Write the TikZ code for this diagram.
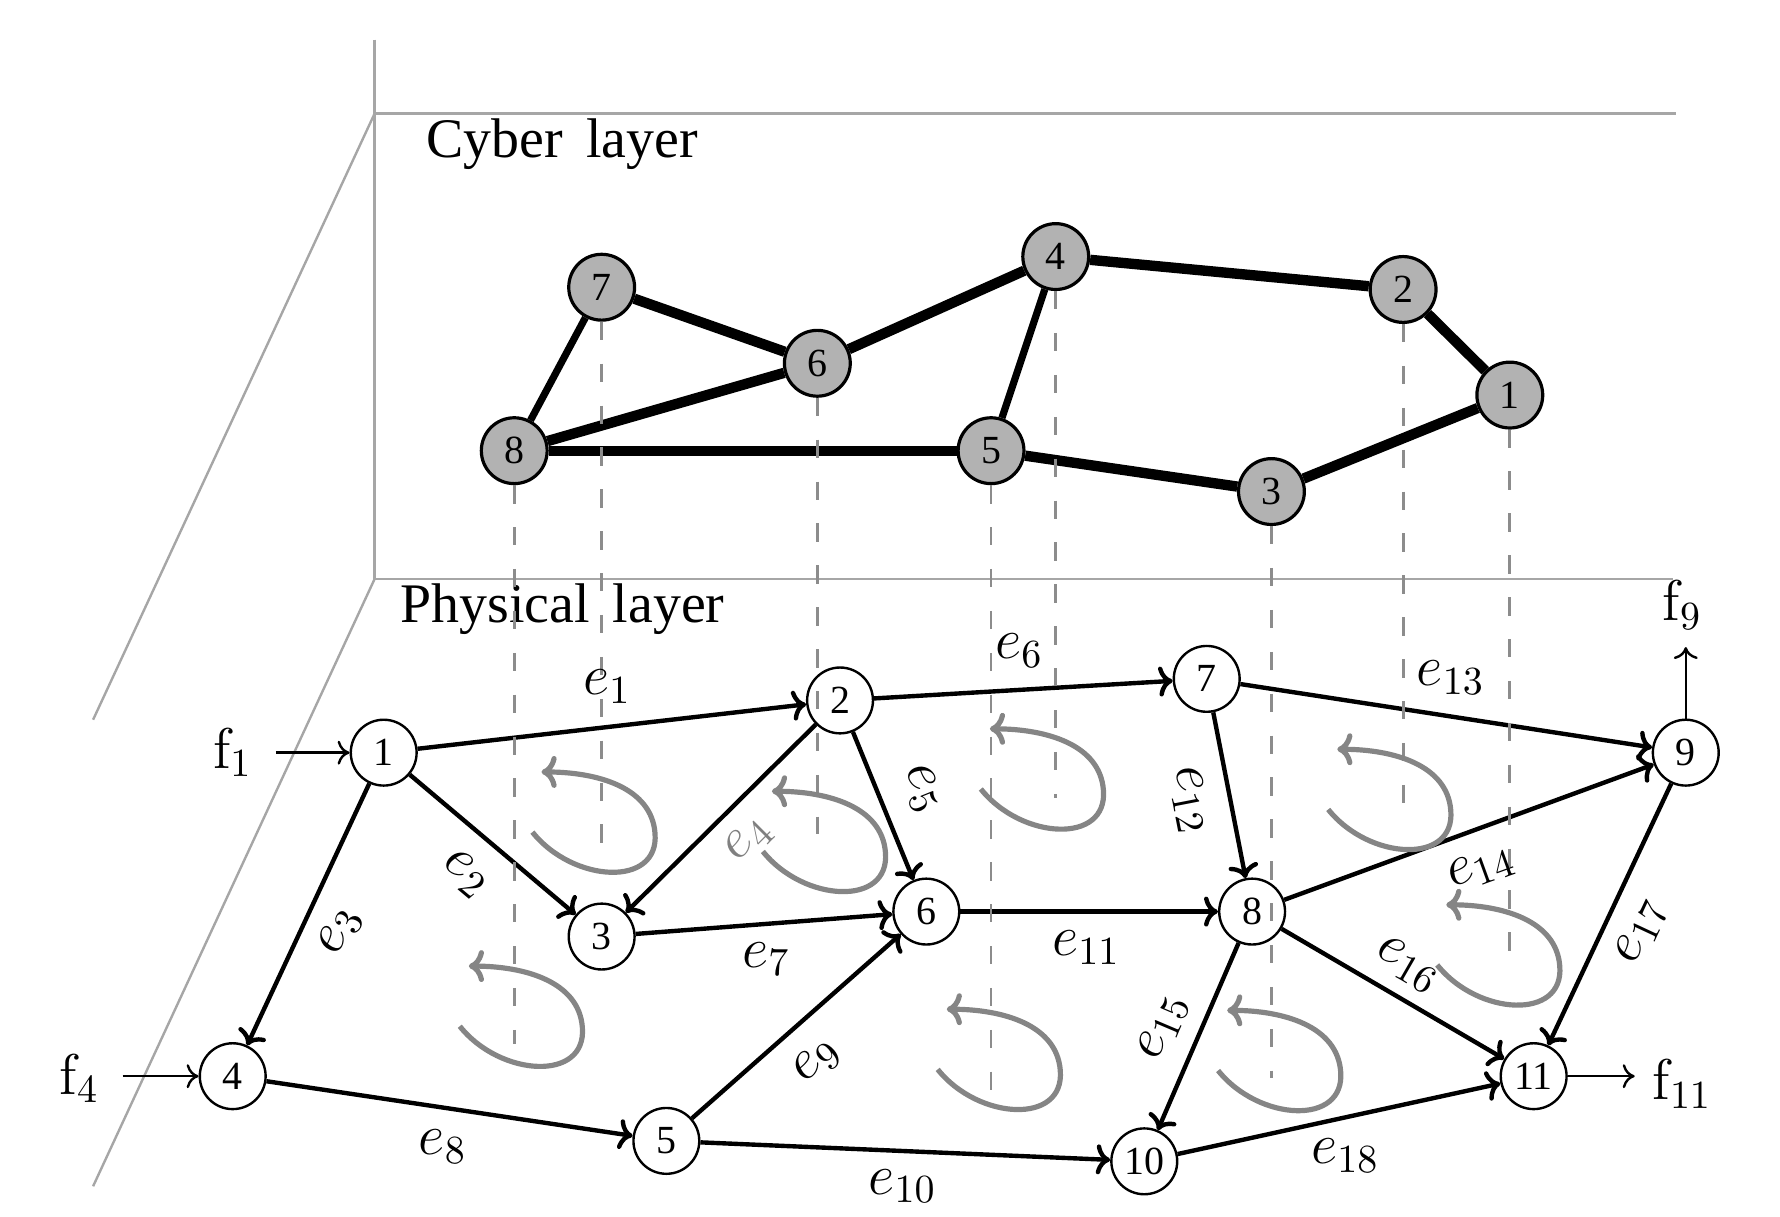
\documentclass[tikz,border=0pt]{standalone}
\usepackage[no-math]{fontspec}
\setmainfont{Liberation Serif}
\usetikzlibrary{arrows.meta}
\tikzset{
  wall/.style={draw=black!35, line width=0.6pt},
  cnode/.style={circle, draw=black, line width=0.8pt, fill=black!30, minimum size=5.8mm, inner sep=0pt, font=\fontsize{10}{11}\selectfont},
  pnode/.style={circle, draw=black, line width=0.6pt, fill=white, minimum size=5.8mm, inner sep=0pt, font=\fontsize{10}{11}\selectfont},
  clink/.style={line width=2.6pt},
  clinkthin/.style={line width=1.8pt},
  plink/.style={line width=1.1pt, -{To[length=3.5pt,width=7.5pt]}},
  flink/.style={line width=0.6pt, -{To[length=3pt,width=6pt]}},
  proj/.style={draw=black!45, line width=0.7pt, dash pattern=on 4.6pt off 5.9pt},
  elabel/.style={font=\fontsize{14}{16}\selectfont, inner sep=0pt},
  layertitle/.style={font=\fontsize{14}{16}\selectfont, anchor=west, inner sep=0pt},
  loopc/.style={draw=black!48, line width=1.3pt, -{To[length=3.8pt,width=8pt]}},
  circ/.pic={\draw[loopc] (-8,53) .. controls (28,98) and (104,102) .. (100,54) .. controls (97,14) and (50,0) .. (0,0);}
}
\begin{document}
\begin{tikzpicture}[x=0.1mm,y=-0.1mm]
\useasboundingbox (0,0) rectangle (1568,1072);
% walls
\coordinate (wtop) at (330,35);
\coordinate (wa) at (330,100);
\coordinate (wb) at (330,510);
\coordinate (wae) at (1476,100);
\coordinate (wbe) at (1474,510);
\coordinate (wad) at (82,634);
\coordinate (wbd) at (82,1045);
\draw[wall] (wtop) -- (wb);
\draw[wall] (wa) -- (wae);
\draw[wall] (wb) -- (wbe);
\draw[wall] (wa) -- (wad);
\draw[wall] (wb) -- (wbd);
\node[layertitle] (tcyber) at (375,127) {Cyber\, layer};
\node[layertitle] (tphys) at (352,537) {Physical\, layer};
% cyber nodes
\node[cnode] (c1) at (1330,348) {1};
\node[cnode] (c2) at (1236,255) {2};
\node[cnode] (c3) at (1120,433) {3};
\node[cnode] (c4) at (930,226) {4};
\node[cnode] (c5) at (873,397) {5};
\node[cnode] (c6) at (720,320) {6};
\node[cnode] (c7) at (530,253) {7};
\node[cnode] (c8) at (453,397) {8};
\draw[clink] (c7) -- (c6);
\draw[clink] (c6) -- (c8);
\draw[clink] (c6) -- (c4);
\draw[clink] (c4) -- (c2);
\draw[clink] (c2) -- (c1);
\draw[clink] (c1) -- (c3);
\draw[clink] (c3) -- (c5);
\draw[clink] (c5) -- (c8);
\draw[clinkthin] (c7) -- (c8);
\draw[clinkthin] (c4) -- (c5);
% physical nodes
\node[pnode] (p1) at (338,663) {1};
\node[pnode] (p2) at (740,617) {2};
\node[pnode] (p3) at (530,825) {3};
\node[pnode] (p4) at (205,948) {4};
\node[pnode] (p5) at (587,1005) {5};
\node[pnode] (p6) at (816,803) {6};
\node[pnode] (p7) at (1063,598) {7};
\node[pnode] (p8) at (1103,803) {8};
\node[pnode] (p9) at (1485,663) {9};
\node[pnode] (p10) at (1008,1023) {10};
\node[pnode] (p11) at (1351,948) {11};
\draw[plink] (p1) -- (p2);
\draw[plink] (p1) -- (p3);
\draw[plink] (p1) -- (p4);
\draw[plink] (p2) -- (p3);
\draw[plink] (p2) -- (p6);
\draw[plink] (p2) -- (p7);
\draw[plink] (p3) -- (p6);
\draw[plink] (p4) -- (p5);
\draw[plink] (p5) -- (p6);
\draw[plink] (p5) -- (p10);
\draw[plink] (p6) -- (p8);
\draw[plink] (p7) -- (p8);
\draw[plink] (p7) -- (p9);
\draw[plink] (p8) -- (p9);
\draw[plink] (p8) -- (p10);
\draw[plink] (p8) -- (p11);
\draw[plink] (p9) -- (p11);
\draw[plink] (p10) -- (p11);
% external flows
\coordinate (f1s) at (243,663);
\coordinate (f4s) at (108,948);
\coordinate (f9e) at (1485,570);
\coordinate (f11e) at (1440,948);
\draw[flink] (f1s) -- (p1);
\draw[flink] (f4s) -- (p4);
\draw[flink] (p9) -- (f9e);
\draw[flink] (p11) -- (f11e);
\node[elabel] (f1) at (205,663) {$\mathrm{f}_1$};
\node[elabel] (f4) at (70,950) {$\mathrm{f}_4$};
\node[elabel] (f9) at (1482,533) {$\mathrm{f}_9$};
\node[elabel] (f11) at (1482,955) {$\mathrm{f}_{11}$};
% projections
\coordinate (d8) at (453,920);
\coordinate (d7) at (530,760);
\coordinate (d6) at (720,735);
\coordinate (d5) at (873,962);
\coordinate (d4) at (930,703);
\coordinate (d3) at (1120,950);
\coordinate (d2) at (1236,712);
\coordinate (d1) at (1330,845);
\draw[proj] (c8.south) -- (d8);
\draw[proj] (c7.south) -- (d7);
\draw[proj] (c6.south) -- (d6);
\draw[proj] (c5.south) -- (d5);
\draw[proj] (c4.south) -- (d4);
\draw[proj] (c3.south) -- (d3);
\draw[proj] (c2.south) -- (d2);
\draw[proj] (c1.south) -- (d1);
% loops
\pic at (477,680) {circ};
\pic at (413,851) {circ};
\pic at (680,697) {circ};
\pic at (872,642) {circ};
\pic at (834,889) {circ};
\pic at (1178,660) {circ};
\pic at (1081,890) {circ};
\pic at (1274,797) {circ};
% edge labels
\node[elabel] (l1) at (535,605) {$e_1$};
\node[elabel, rotate=-40] (l2) at (410,770) {$e_2$};
\node[elabel, rotate=65] (l3) at (300,820) {$e_3$};
\node[elabel, rotate=45, text=black!50] (l4) at (660,740) {$e_4$};
\node[elabel, rotate=-68] (l5) at (812,695) {$e_5$};
\node[elabel] (l6) at (898,573) {$e_6$};
\node[elabel] (l7) at (675,845) {$e_7$};
\node[elabel] (l8) at (390,1010) {$e_8$};
\node[elabel, rotate=41] (l9) at (720,935) {$e_9$};
\node[elabel] (l10) at (795,1045) {$e_{10}$};
\node[elabel] (l11) at (957,835) {$e_{11}$};
\node[elabel, rotate=-79] (l12) at (1048,705) {$e_{12}$};
\node[elabel] (l13) at (1278,597) {$e_{13}$};
\node[elabel, rotate=20] (l14) at (1305,765) {$e_{14}$};
\node[elabel, rotate=67] (l15) at (1025,905) {$e_{15}$};
\node[elabel, rotate=-30] (l16) at (1240,850) {$e_{16}$};
\node[elabel, rotate=65] (l17) at (1446,820) {$e_{17}$};
\node[elabel] (l18) at (1185,1018) {$e_{18}$};
\end{tikzpicture}
\end{document}
